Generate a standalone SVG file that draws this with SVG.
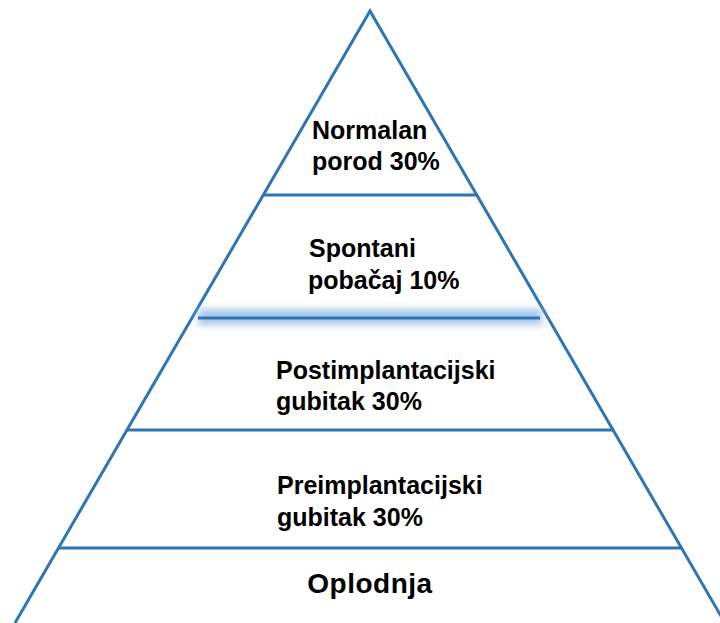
<svg xmlns="http://www.w3.org/2000/svg" width="720" height="623" viewBox="0 0 720 623">
  <style>
    .edge { fill: none; stroke: #2E75B6; stroke-width: 3; stroke-linejoin: miter; stroke-linecap: butt; }
    .lbl { font-family: "Liberation Sans", Arial, sans-serif; font-weight: bold; font-size: 25px; fill: #000000; }
    .big { font-size: 28px; letter-spacing: 0.5px; }
  </style>
  <defs>
    <filter id="glow" filterUnits="userSpaceOnUse" x="170" y="290" width="400" height="55">
      <feGaussianBlur stdDeviation="3.5"/>
    </filter>
  </defs>
  <rect width="720" height="623" fill="#ffffff"/>
  <g id="pyramid-outline">
    <path class="edge" d="M15,623 L370,11 L725,623"/>
  </g>
  <g id="connectors">
    <line class="edge" x1="263" y1="195" x2="477" y2="195"/>
    <line x1="198" y1="317" x2="542" y2="317" stroke="#9DC3E6" stroke-width="16" opacity="0.9" filter="url(#glow)"/>
    <line class="edge" x1="198" y1="318" x2="540" y2="318"/>
    <line class="edge" x1="127" y1="430" x2="613" y2="430"/>
    <line class="edge" x1="58.5" y1="548" x2="681.5" y2="548"/>
  </g>
  <g id="normalan-porod">
    <text class="lbl" x="312" y="139">Normalan</text>
    <text class="lbl" x="312" y="170">porod 30%</text>
  </g>
  <g id="spontani-pobacaj">
    <text class="lbl" x="309" y="257">Spontani</text>
    <text class="lbl" x="308" y="289">pobačaj 10%</text>
  </g>
  <g id="postimplantacijski-gubitak">
    <text class="lbl" x="276" y="379">Postimplantacijski</text>
    <text class="lbl" x="276" y="410">gubitak 30%</text>
  </g>
  <g id="preimplantacijski-gubitak">
    <text class="lbl" x="277" y="494">Preimplantacijski</text>
    <text class="lbl" x="277" y="526">gubitak 30%</text>
  </g>
  <g id="oplodnja">
    <text class="lbl big" x="370" y="593" text-anchor="middle">Oplodnja</text>
  </g>
</svg>
